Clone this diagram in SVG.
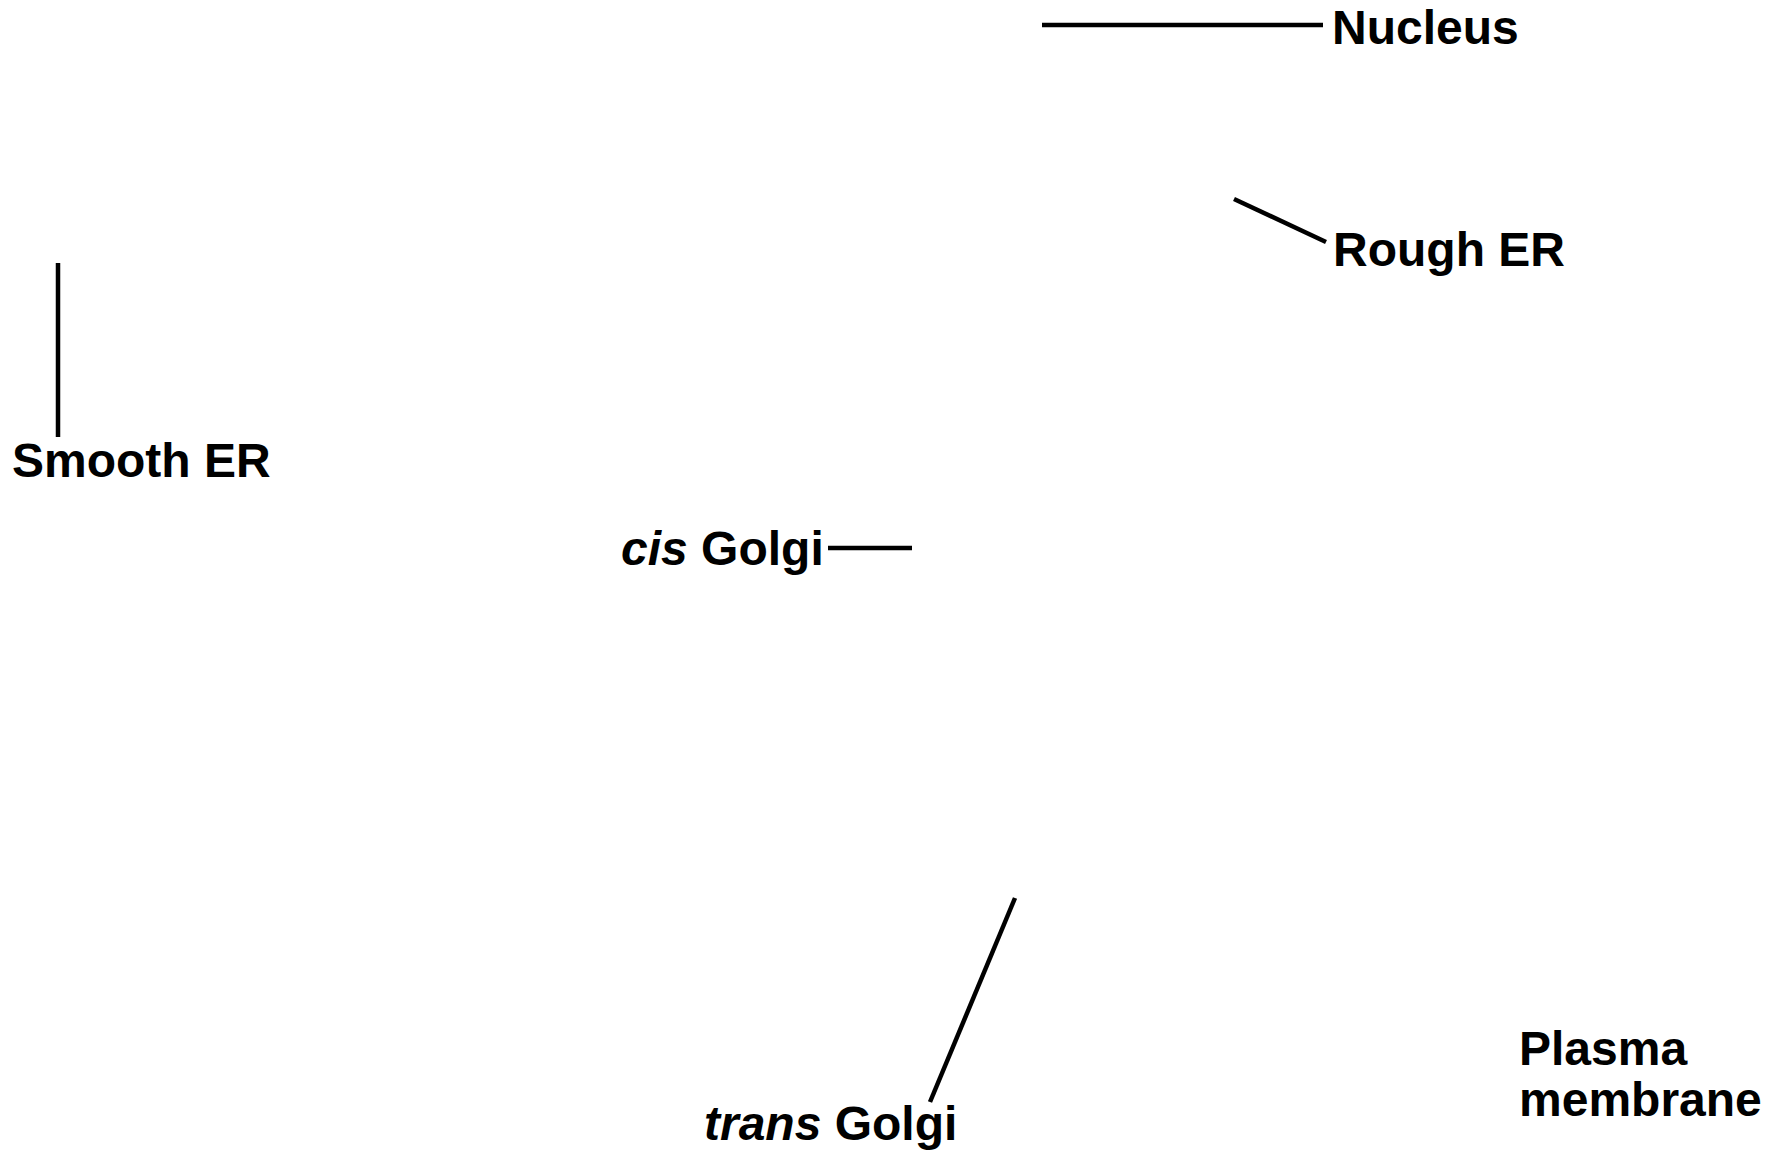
<svg xmlns="http://www.w3.org/2000/svg" width="1785" height="1153" viewBox="0 0 1785 1153">
  <style>
    .lbl { font-family: "Liberation Sans", Arial, sans-serif; font-weight: bold; font-size: 48px; fill: #000; }
    .it { font-style: italic; }
    .leader { stroke: #000; stroke-width: 4.5; fill: none; }
  </style>
  <rect width="1785" height="1153" fill="#fff"/>
  <g id="connectors">
    <line class="leader" x1="1042" y1="25" x2="1323" y2="25"/>
    <line class="leader" x1="1234" y1="199" x2="1326" y2="242"/>
    <line class="leader" x1="58" y1="263" x2="58" y2="437"/>
    <line class="leader" x1="828" y1="548" x2="912" y2="548"/>
    <line class="leader" x1="1015" y1="898" x2="930" y2="1102"/>
  </g>
  <g id="nucleus"><text class="lbl" x="1332" y="44">Nucleus</text></g>
  <g id="rough-er"><text class="lbl" x="1333" y="266">Rough ER</text></g>
  <g id="smooth-er"><text class="lbl" x="12" y="477">Smooth ER</text></g>
  <g id="cis-golgi"><text class="lbl" x="621" y="565"><tspan class="it">cis</tspan> Golgi</text></g>
  <g id="trans-golgi"><text class="lbl" x="704" y="1140"><tspan class="it">trans</tspan> Golgi</text></g>
  <g id="plasma-membrane">
    <text class="lbl" x="1519" y="1065">Plasma</text>
    <text class="lbl" x="1519" y="1116">membrane</text>
  </g>
</svg>
